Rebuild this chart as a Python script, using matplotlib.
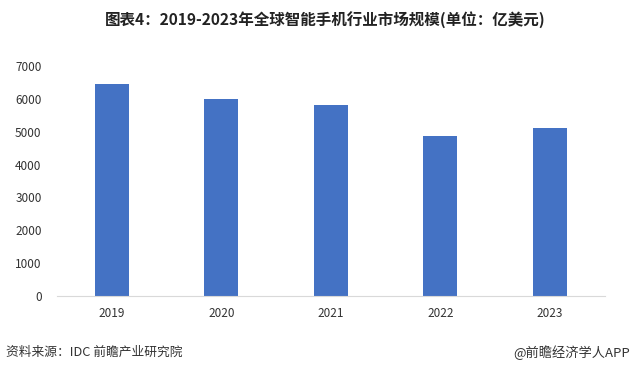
import numpy as np
import matplotlib
matplotlib.use('Agg')
import matplotlib.pyplot as plt

plt.rcParams['font.family'] = ['Noto Sans CJK SC', 'DejaVu Sans']

years = ['2019', '2020', '2021', '2022', '2023']
market = [6450, 6000, 5810, 4870, 5110]
yticks = [0, 1000, 2000, 3000, 4000, 5000, 6000, 7000]

fig = plt.figure(figsize=(6.32, 3.72), dpi=100)
ax = fig.add_axes([0.09, 0.204, 0.867, 0.619])

x = np.arange(len(years))
ax.bar(x, market, width=0.31, color='#4472C4')

ax.set_xlim(-0.5, len(years) - 0.5)
ax.set_ylim(0, 7000)
ax.set_yticks(yticks)
ax.set_yticklabels([str(v) for v in yticks], fontsize=8.5, color='#333333')
ax.set_xticks(x)
ax.set_xticklabels(years, fontsize=8.5, color='#333333')
ax.tick_params(axis='x', length=0, pad=8)
ax.tick_params(axis='y', length=0, pad=11)

for side in ['top', 'right', 'left']:
    ax.spines[side].set_visible(False)
ax.spines['bottom'].set_color('#d9d9d9')

fig.text(0.515, 0.945, '图表4：2019-2023年全球智能手机行业市场规模(单位：亿美元)',
         ha='center', va='center', fontsize=11.2, fontweight='bold', color='#222222')
fig.text(0.01, 0.052, '资料来源：IDC 前瞻产业研究院', ha='left', va='center',
         fontsize=9.2, color='#333333')
fig.text(0.997, 0.052, '@前瞻经济学人APP', ha='right', va='center',
         fontsize=9.5, color='#333333')

fig.savefig('out.png', dpi=100)
